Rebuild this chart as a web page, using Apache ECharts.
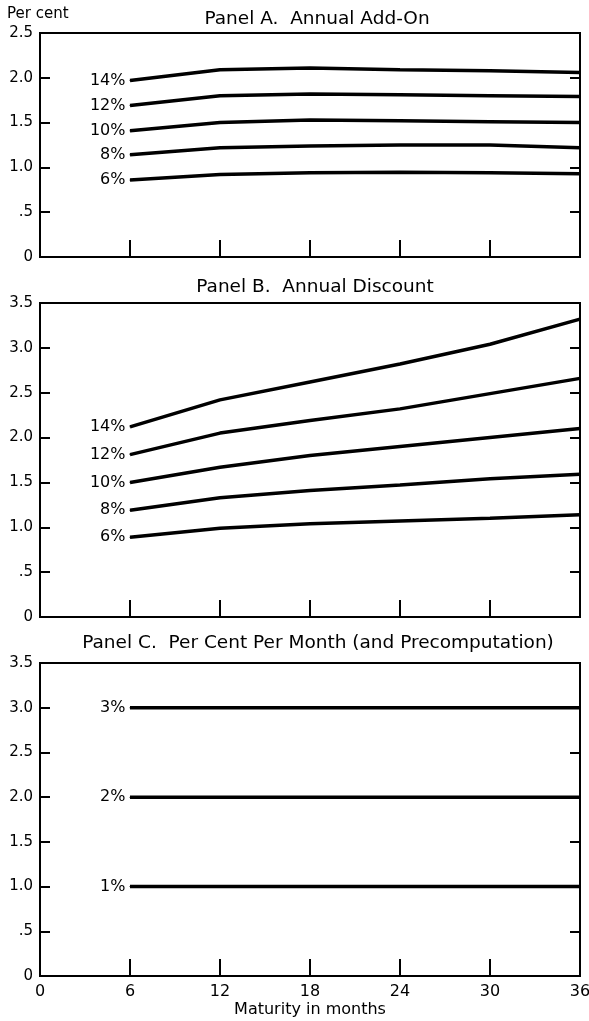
<!DOCTYPE html>
<html>
<head>
<meta charset="utf-8">
<script src="https://cdn.jsdelivr.net/npm/echarts@6/dist/echarts.min.js"></script>
<style>
html, body { margin: 0; padding: 0; background: #fff; }
#main { width: 589px; height: 1021px; }
</style>
</head>
<body>
<div id="main"></div>
<script>
// maturity points (months)
var months = [6, 12, 18, 24, 30, 36];
var rateNames = ['14%', '12%', '10%', '8%', '6%'];

// Panel A. Annual Add-On
var addOn14 = [1.97, 2.09, 2.11, 2.09, 2.08, 2.06];
var addOn12 = [1.69, 1.80, 1.82, 1.81, 1.80, 1.79];
var addOn10 = [1.41, 1.50, 1.53, 1.52, 1.51, 1.50];
var addOn8 = [1.14, 1.22, 1.24, 1.25, 1.25, 1.22];
var addOn6 = [0.86, 0.92, 0.94, 0.945, 0.94, 0.93];

// Panel B. Annual Discount
var disc14 = [2.12, 2.42, 2.62, 2.82, 3.04, 3.32];
var disc12 = [1.81, 2.05, 2.19, 2.32, 2.49, 2.66];
var disc10 = [1.50, 1.67, 1.80, 1.90, 2.00, 2.10];
var disc8 = [1.19, 1.33, 1.41, 1.47, 1.54, 1.59];
var disc6 = [0.89, 0.99, 1.04, 1.07, 1.10, 1.14];

// Panel C. Per cent per month
var monthNames = ['3%', '2%', '1%'];
var perMonth3 = [3, 3, 3, 3, 3, 3];
var perMonth2 = [2, 2, 2, 2, 2, 2];
var perMonth1 = [1, 1, 1, 1, 1, 1];

var myChart = echarts.init(document.getElementById('main'));

var font = 'DejaVu Sans, sans-serif';

function mkData(vals) {
	var res = [];
	for (var i = 0; i < months.length; i++) {
		if (i == 0) {
			res.push({ value: [months[i], vals[i]], label: { show: true } });
		} else {
			res.push([months[i], vals[i]]);
		}
	}
	return res;
}

function mkSeries(name, vals, idx) {
	return {
		name: name,
		type: 'line',
		xAxisIndex: idx,
		yAxisIndex: idx * 2,
		data: mkData(vals),
		symbol: 'circle',
		symbolSize: 1,
		itemStyle: { color: '#000' },
		lineStyle: { color: '#000', width: 3.5 },
		label: {
			show: false,
			position: 'left',
			distance: 4,
			formatter: '{a}',
			color: '#000',
			fontSize: 16,
			fontFamily: font
		},
		silent: true,
		z: 3
	};
}

function yFmt(v) {
	if (v == 0) return '0';
	if (v < 1) return '.5';
	return v.toFixed(1);
}

var grids = [
	{ left: 40, right: 9, top: 33, height: 224 },
	{ left: 40, right: 9, top: 303, height: 314 },
	{ left: 40, right: 9, top: 663, height: 313 }
];
grids.forEach(function(g) {
	g.show = true;
	g.borderColor = '#000';
	g.borderWidth = 2;
	g.backgroundColor = 'transparent';
	g.outerBoundsMode = 'none';
	g.containLabel = false;
});

var yMax = [2.5, 3.5, 3.5];
var xAxes = [], yAxes = [];
for (var k = 0; k < 3; k++) {
	xAxes.push({
		type: 'value',
		gridIndex: k,
		min: 0,
		max: 36,
		interval: 6,
		axisLine: { show: true, lineStyle: { color: '#000', width: 2 } },
		axisTick: { show: true, inside: true, length: 17, lineStyle: { color: '#000', width: 2 } },
		axisLabel: {
			show: k == 2,
			margin: 8,
			color: '#000',
			fontSize: 16,
			fontFamily: font
		},
		splitLine: { show: false },
		name: k == 2 ? 'Maturity in months' : '',
		nameLocation: 'middle',
		nameGap: 26,
		nameTextStyle: { color: '#000', fontSize: 16, fontFamily: font }
	});
	yAxes.push({
		type: 'value',
		gridIndex: k,
		position: 'left',
		min: 0,
		max: yMax[k],
		interval: 0.5,
		axisLine: { show: true, lineStyle: { color: '#000', width: 2 } },
		axisTick: { show: true, inside: true, length: 10, lineStyle: { color: '#000', width: 2 } },
		axisLabel: {
			margin: 7,
			color: '#000',
			fontSize: 15,
			fontFamily: font,
			formatter: yFmt
		},
		splitLine: { show: false }
	});
	yAxes.push({
		type: 'value',
		gridIndex: k,
		position: 'right',
		min: 0,
		max: yMax[k],
		interval: 0.5,
		axisLine: { show: true, lineStyle: { color: '#000', width: 2 } },
		axisTick: { show: true, inside: true, length: 10, lineStyle: { color: '#000', width: 2 } },
		axisLabel: { show: false },
		splitLine: { show: false }
	});
}

var series = [
	mkSeries(rateNames[0], addOn14, 0),
	mkSeries(rateNames[1], addOn12, 0),
	mkSeries(rateNames[2], addOn10, 0),
	mkSeries(rateNames[3], addOn8, 0),
	mkSeries(rateNames[4], addOn6, 0),
	mkSeries(rateNames[0], disc14, 1),
	mkSeries(rateNames[1], disc12, 1),
	mkSeries(rateNames[2], disc10, 1),
	mkSeries(rateNames[3], disc8, 1),
	mkSeries(rateNames[4], disc6, 1),
	mkSeries(monthNames[0], perMonth3, 2),
	mkSeries(monthNames[1], perMonth2, 2),
	mkSeries(monthNames[2], perMonth1, 2)
];

var titleStyle = { color: '#000', fontSize: 18.5, fontWeight: 'normal', fontFamily: font };

var option = {
	backgroundColor: '#fff',
	animation: false,
	title: [
		{ text: 'Panel A.  Annual Add-On', left: 312, top: 5, textAlign: 'center', textStyle: titleStyle },
		{ text: 'Panel B.  Annual Discount', left: 310, top: 273, textAlign: 'center', textStyle: titleStyle },
		{ text: 'Panel C.  Per Cent Per Month (and Precomputation)', left: 313, top: 629, textAlign: 'center', textStyle: titleStyle }
	],
	graphic: [
		{ type: 'text', left: 7, top: 7, style: { text: 'Per cent', fill: '#000', fontSize: 15, fontFamily: font } }
	],
	grid: grids,
	xAxis: xAxes,
	yAxis: yAxes,
	series: series
};

myChart.setOption(option);
</script>
</body>
</html>
